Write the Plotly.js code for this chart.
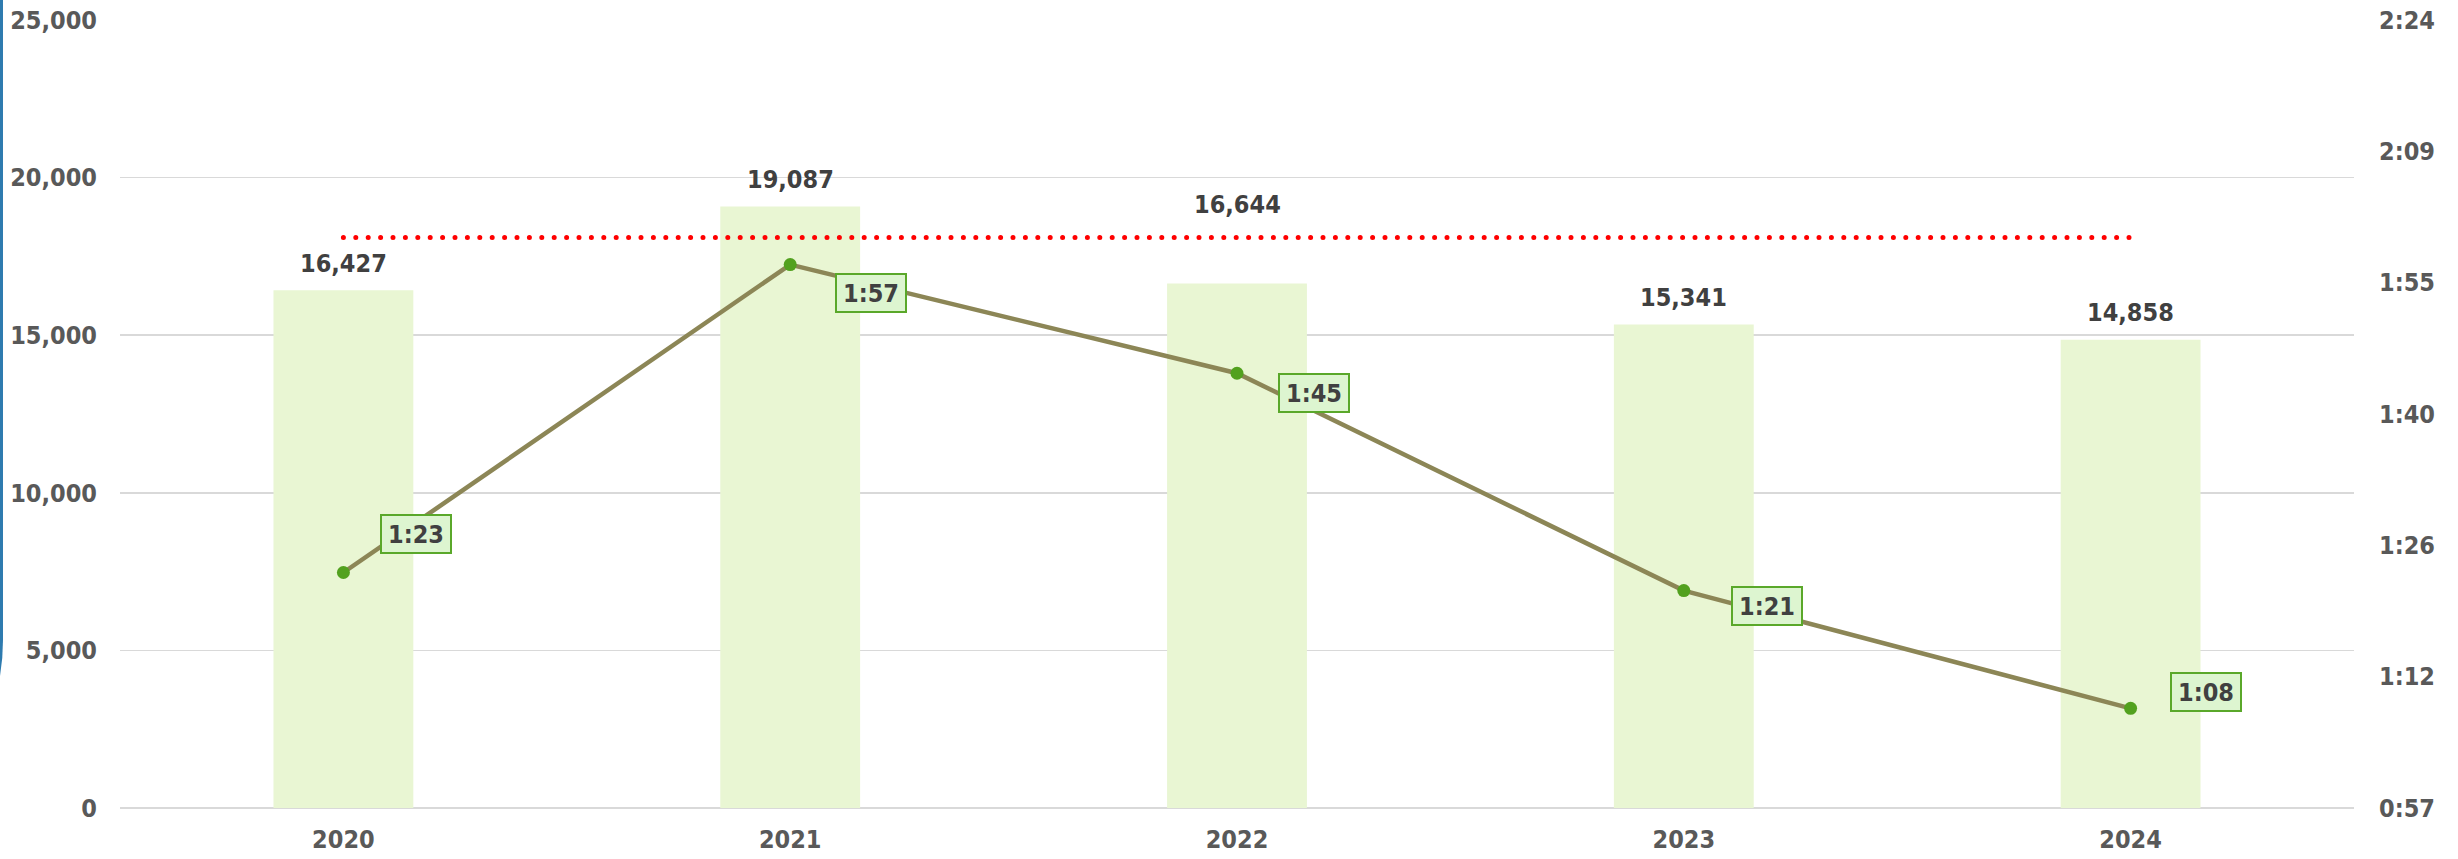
<!DOCTYPE html>
<html>
<head>
<meta charset="utf-8">
<script src="https://cdn.plot.ly/plotly-3.0.1.min.js"></script>
<style>
  html, body { margin: 0; padding: 0; background: #ffffff; overflow: hidden; }
  #chart { width: 2458px; height: 859px; position: relative; }
  #edge { position: absolute; left: -217px; top: -400px; width: 220.3px; height: 1260px;
          background: #2E7BAF; border-bottom-right-radius: 220px; z-index: 5; }
  .js-line { stroke-linecap: round; }
</style>
</head>
<body>
<div id="chart"></div>
<div id="edge"></div>
<script>
// ---- data ----
const years = ['2020', '2021', '2022', '2023', '2024'];
const visitors = [16427, 19087, 16644, 15341, 14858];
const durationSec = [83, 117, 105, 81, 68];          // average duration (m:ss as seconds)
const targetSec = 120;                               // target line 2:00
const rightTickText = ['0:57', '1:12', '1:26', '1:40', '1:55', '2:09', '2:24'];
const rightMin = 57, rightMax = 144;

function fmtMS(s) {
  const m = Math.floor(s / 60), r = Math.round(s - m * 60);
  return m + ':' + (r < 10 ? '0' + r : r);
}
function fmtNum(v) { return v.toLocaleString('en-US'); }

const FONT = 'DejaVu Sans Condensed, DejaVu Sans, sans-serif';
const rightStep = (rightMax - rightMin) / (rightTickText.length - 1);
const rightTickVals = rightTickText.map((t, i) => rightMin + i * rightStep);

const traces = [
  {
    type: 'bar', x: years, y: visitors, yaxis: 'y',
    marker: { color: '#E9F6D3' }, hoverinfo: 'skip', showlegend: false
  },
  {
    type: 'scatter', mode: 'lines+markers', x: years, y: durationSec, yaxis: 'y2',
    line: { color: '#8C8656', width: 4.5 },
    marker: { color: '#52A11E', size: 13 },
    hoverinfo: 'skip', showlegend: false
  },
  {
    type: 'scatter', mode: 'lines', x: years, y: years.map(() => targetSec), yaxis: 'y2',
    line: { color: '#FF0000', width: 5, dash: '0px,12.4px' },
    hoverinfo: 'skip', showlegend: false
  }
];

// label styling offsets (screen px)
const barLabelShift = [27, 27, 79, 27, 27];
const lineLabelShift = [[73, 39], [81, -28], [77, -20], [83, -15], [75, 16]];

const annotations = [];
years.forEach((yr, i) => {
  annotations.push({
    x: i, y: visitors[i], xref: 'x', yref: 'y', text: fmtNum(visitors[i]),
    showarrow: false, xanchor: 'center', yanchor: 'middle', yshift: barLabelShift[i],
    font: { family: FONT, size: 25, color: '#404040', weight: 'bold' }
  });
  annotations.push({
    x: i, y: durationSec[i], xref: 'x', yref: 'y2', text: fmtMS(durationSec[i]),
    showarrow: false, xanchor: 'center', yanchor: 'middle',
    xshift: lineLabelShift[i][0], yshift: lineLabelShift[i][1],
    bgcolor: '#DDF5D0', bordercolor: '#5AA82A', borderwidth: 2, borderpad: 3,
    width: 62, height: 30,
    font: { family: FONT, size: 25, color: '#404040', weight: 'bold' }
  });
});

const layout = {
  width: 2458, height: 859,
  margin: { l: 120, r: 104, t: 20, b: 51 },
  paper_bgcolor: '#ffffff', plot_bgcolor: '#ffffff',
  bargap: 0.687,
  showlegend: false,
  font: { family: FONT, size: 25, color: '#595959', weight: 'bold' },
  xaxis: {
    type: 'category', range: [-0.5, years.length - 0.5], autorange: false,
    showgrid: false, zeroline: false, showline: false,
    ticks: '', ticklabelstandoff: 14,
    tickfont: { family: FONT, size: 25, color: '#595959', weight: 'bold' }
  },
  yaxis: {
    range: [0, 25000], autorange: false, dtick: 5000, tickformat: ',',
    showgrid: true, gridcolor: '#D9D9D9', gridwidth: 1.6,
    zeroline: true, zerolinecolor: '#D9D9D9', zerolinewidth: 1.6,
    showline: false, ticks: '', ticklabelstandoff: 22,
    tickfont: { family: FONT, size: 25, color: '#595959', weight: 'bold' }
  },
  yaxis2: {
    overlaying: 'y', side: 'right', range: [rightMin, rightMax], autorange: false,
    tickmode: 'array', tickvals: rightTickVals, ticktext: rightTickText,
    showgrid: false, zeroline: false, showline: false, ticks: '', ticklabelstandoff: 24,
    tickfont: { family: FONT, size: 25, color: '#595959', weight: 'bold' }
  },
  annotations: annotations
};

Plotly.newPlot('chart', traces, layout, { staticPlot: true, displayModeBar: false });
</script>
</body>
</html>
